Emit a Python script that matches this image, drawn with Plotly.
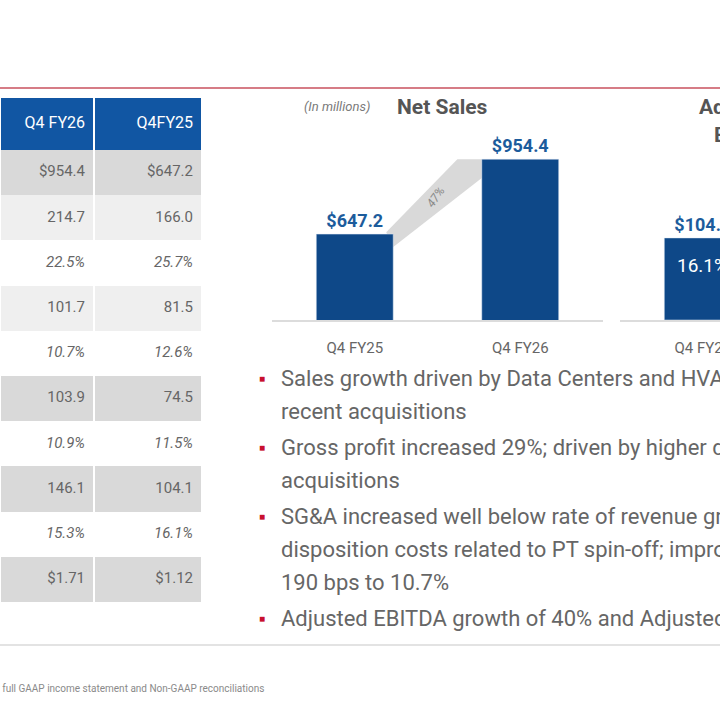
import plotly.graph_objects as go

# table values
table_header = ["Q4 FY26", "Q4FY25"]
q4_fy26 = ["$954.4", "214.7", "22.5%", "101.7", "10.7%", "103.9", "10.9%", "146.1", "15.3%", "$1.71"]
q4_fy25 = ["$647.2", "166.0", "25.7%", "81.5", "12.6%", "74.5", "11.5%", "104.1", "16.1%", "$1.12"]
# 0 = white, 1 = light grey, 2 = grey, 3 = header blue
row_shade = [2, 1, 0, 1, 0, 2, 0, 2, 0, 2]

# charts
periods = ["Q4 FY25", "Q4 FY26"]
net_sales = [647.2, 954.4]
net_sales_growth = "47%"
adj_ebitda = [104.1, 146.1]
adj_ebitda_margin = ["16.1%", "15.3%"]

bullets = [
    ["Sales growth driven by Data Centers and HVAC markets, along with",
     "recent acquisitions"],
    ["Gross profit increased 29%; driven by higher data center volume and",
     "acquisitions"],
    ["SG&A increased well below rate of revenue growth, excluding",
     "disposition costs related to PT spin-off; improved as % of sales by",
     "190 bps to 10.7%"],
    ["Adjusted EBITDA growth of 40% and Adjusted EPS growth of 53%"],
]
footnote = "(1) See Appendix for full GAAP income statement and Non-GAAP reconciliations"

FONT = "Roboto, Liberation Sans, sans-serif"
GREY = "#666666"
BLUE = "#0e4888"
LABEL_BLUE = "#1c5c9c"
W = H = 720


def px(x):
    return x / W


def py(y):
    return 1 - y / H


def fmt(v):
    return "<i>%s</i>" % v if v.endswith("%") else v


def note(x, y, text, size, color, xanchor="left", **kw):
    fig.add_annotation(x=px(x), y=py(y), xref="paper", yref="paper", xanchor=xanchor,
                       yanchor="middle", text=text, showarrow=False,
                       font=dict(family=FONT, size=size, color=color), **kw)


fig = go.Figure()

# ---- table (heatmap cells + text), axis units are pixels ----
row_edges = [98, 150] + [150 + 45.2 * (i + 1) for i in range(len(q4_fy26))]
row_mid = [(row_edges[i] + row_edges[i + 1]) / 2 for i in range(len(row_edges) - 1)]
col_edges = [0, 94, 202]
col_right = [85, 193]

fig.add_trace(go.Heatmap(
    x=col_edges, y=row_edges,
    z=[[3, 3]] + [[s, s] for s in row_shade],
    zmin=0, zmax=3, xgap=2, ygap=0, showscale=False, hoverinfo="skip",
    colorscale=[[0, "#ffffff"], [1 / 3, "#efefef"], [2 / 3, "#d9d9d9"], [1, "#1156a3"]],
    xaxis="x3", yaxis="y3",
))
fig.add_trace(go.Scatter(
    x=col_right, y=[row_mid[0]] * 2, text=table_header, mode="text",
    textposition="middle left", hoverinfo="skip", showlegend=False,
    textfont=dict(family=FONT, size=16, color="white"),
    xaxis="x3", yaxis="y3",
))
fig.add_trace(go.Scatter(
    x=[col_right[0]] * len(q4_fy26) + [col_right[1]] * len(q4_fy25),
    y=row_mid[1:] * 2,
    text=[fmt(v) for v in q4_fy26 + q4_fy25], mode="text",
    textposition="middle left", hoverinfo="skip", showlegend=False,
    textfont=dict(family=FONT, size=15, color=GREY),
    xaxis="x3", yaxis="y3",
))

# ---- bar charts ----
fig.add_trace(go.Bar(
    x=periods, y=net_sales, width=0.465, marker_color=BLUE,
    text=["$%.1f" % v for v in net_sales], textposition="outside",
    textfont=dict(family=FONT, size=18, color=LABEL_BLUE, weight="bold"),
    cliponaxis=False, xaxis="x", yaxis="y", showlegend=False, hoverinfo="skip",
))
fig.add_trace(go.Bar(
    x=periods, y=adj_ebitda, width=0.465, marker_color=BLUE,
    text=["$%.1f" % v for v in adj_ebitda], textposition="outside",
    textfont=dict(family=FONT, size=18, color=LABEL_BLUE, weight="bold"),
    cliponaxis=False, xaxis="x2", yaxis="y2", showlegend=False, hoverinfo="skip",
))

axis_common = dict(type="category", showgrid=False, showline=True, linecolor="#dcdcdc",
                   linewidth=2, ticks="", ticklabelstandoff=13, automargin=False,
                   tickfont=dict(family=FONT, size=15, color=GREY))
yaxis_common = dict(visible=False, showgrid=False, zeroline=False, automargin=False)

fig.update_layout(
    width=W, height=H, autosize=False, margin=dict(l=0, r=0, t=0, b=0, autoexpand=False),
    paper_bgcolor="white", plot_bgcolor="white",
    xaxis=dict(domain=[px(272), px(603)], range=[-0.5, 1.5], anchor="y", **axis_common),
    yaxis=dict(domain=[py(320), py(100)], range=[295, 1197], **yaxis_common),
    xaxis2=dict(domain=[px(620), 1], range=[-0.5, 0.104], anchor="y2", **axis_common),
    yaxis2=dict(domain=[py(320), py(100)], range=[0, 279], **yaxis_common),
    xaxis3=dict(domain=[0, px(202)], range=[0, 202], visible=False, anchor="y3"),
    yaxis3=dict(domain=[py(602), py(98)], range=[602, 98], visible=False, anchor="x3"),
)

# growth band between the net sales bars
fig.add_shape(type="path", xref="x", yref="y", layer="below",
              path="M 0.19 %f L 0.62 %f L 0.7675 %f L 0.7675 %f L 0.2325 %f Z"
                   % (net_sales[0] + 8, net_sales[1], net_sales[1], net_sales[1] - 77, net_sales[0] - 53),
              fillcolor="#d9d9d9", line=dict(width=0))
fig.add_annotation(x=0.49, y=(net_sales[0] + net_sales[1]) / 2 - 2, xref="x", yref="y",
                   text="<i>%s</i>" % net_sales_growth, textangle=-55, showarrow=False,
                   font=dict(family=FONT, size=12, color="#888888"))

# margin inside EBITDA bar
fig.add_annotation(x=periods[0], y=adj_ebitda[0], xref="x2", yref="y2", yanchor="top", yshift=-14,
                   text=adj_ebitda_margin[0], showarrow=False,
                   font=dict(family=FONT, size=19, color="white"))

# titles
note(302, 106, "<i>(In millions)</i>", 13, "#7a7a7a")
note(395, 107, "<b>Net Sales</b>", 21, "#555555")
note(697, 107, "<b>Adjusted</b>", 21, "#555555")
note(712, 135, "<b>EBITDA</b>", 21, "#555555")

# bullets
line_y = 378
for item in bullets:
    note(262, line_y, "■", 10, "#c8102e", xanchor="center")
    for line in item:
        note(279, line_y, line, 22, GREY)
        line_y += 33
    line_y += 3

note(266, 689, footnote, 10, "#8a8a8a", xanchor="right")

# rules
fig.add_shape(type="line", xref="paper", yref="paper", x0=0, x1=1, y0=py(88), y1=py(88),
              line=dict(color="#c9505e", width=1.5))
fig.add_shape(type="line", xref="paper", yref="paper", x0=0, x1=1, y0=py(645), y1=py(645),
              line=dict(color="#e3e3e3", width=2))

fig.write_html("out.html", config={"displayModeBar": False, "responsive": False},
               post_script="document.body.style.margin='0';document.body.style.overflow='hidden';")
